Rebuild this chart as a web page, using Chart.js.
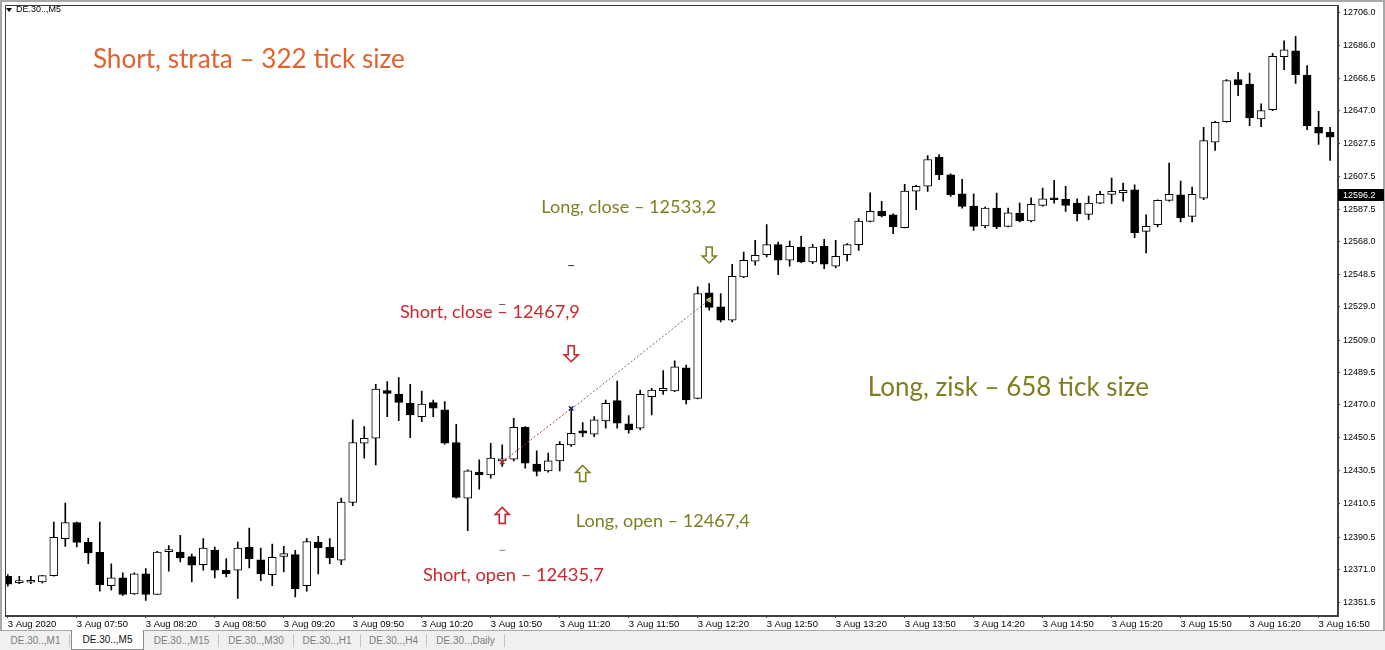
<!DOCTYPE html>
<html>
<head>
<meta charset="utf-8">
<script src="https://cdn.jsdelivr.net/npm/chart.js@4.4.1/dist/chart.umd.min.js"></script>
<style>
html, body { margin: 0; padding: 0; background: #fff; }
#wrap { position: relative; width: 1385px; height: 650px; overflow: hidden; font-family: "Liberation Sans", Arial, sans-serif; }
#c { position: absolute; left: 0; top: 0; }
#tabs { position: absolute; left: 0; top: 630px; width: 1385px; height: 20px; background: #f0f0f0; border-top: 1px solid #a8a8a8; box-sizing: border-box; }
.tab { position: absolute; top: 0; height: 18px; line-height: 18px; font-size: 10px; color: #7c7c7c; text-align: center; box-sizing: border-box; }
.tab.sep { border-right: 1px solid #c4c4c4; top: 3px; height: 13px; line-height: 13px; }
.tab.on { background: #fff; color: #111; border: 1px solid #8a8a8a; border-top: none; top: -1px; height: 20px; line-height: 20px; }
</style>
</head>
<body>
<div id="wrap">
  <canvas id="c" width="1385" height="630"></canvas>
  <div id="tabs">
    <div class="tab sep" style="left:2px;width:68px;">DE.30..,M1</div>
    <div class="tab on" style="left:71px;width:73px;">DE.30..,M5</div>
    <div class="tab sep" style="left:145px;width:74px;">DE.30..,M15</div>
    <div class="tab sep" style="left:219px;width:75px;">DE.30..,M30</div>
    <div class="tab sep" style="left:294px;width:67px;">DE.30..,H1</div>
    <div class="tab sep" style="left:361px;width:66px;">DE.30..,H4</div>
    <div class="tab sep" style="left:427px;width:78px;">DE.30..,Daily</div>
  </div>
</div>
<script>
// DE.30 M5 candles, 3 Aug 2020 from 07:20
const opens = [
    12367.0, 12363.2, 12363.4, 12363.6, 12367.4, 12389.6, 12399.2, 12387.4, 12381.4, 12361.4,
    12366.0, 12356.4, 12368.4, 12356.0, 12381.8, 12381.6, 12378.8, 12374.0, 12382.8, 12370.6,
    12370.6, 12384.4, 12376.8, 12368.0, 12379.0, 12380.0, 12361.4, 12387.4, 12384.4, 12376.6,
    12411.4, 12447.0, 12450.0, 12478.6, 12476.6, 12471.0, 12463.0, 12471.4, 12467.0, 12447.4,
    12414.0, 12429.6, 12428.0, 12436.4, 12437.4, 12456.6, 12434.4, 12430.4, 12436.4, 12446.0,
    12454.4, 12452.4, 12460.4, 12472.6, 12458.6, 12456.0, 12475.0, 12478.6, 12478.4, 12492.4,
    12474.0, 12537.4, 12529.0, 12521.0, 12547.0, 12556.4, 12560.4, 12566.4, 12557.0, 12565.0,
    12556.0, 12565.4, 12553.4, 12560.4, 12566.4, 12580.4, 12586.4, 12584.4, 12576.6, 12598.6,
    12601.6, 12619.0, 12608.4, 12597.0, 12589.6, 12577.6, 12588.4, 12577.4, 12585.4, 12580.6,
    12590.0, 12594.4, 12593.6, 12591.4, 12584.6, 12591.4, 12596.6, 12597.6, 12599.4, 12574.4,
    12578.4, 12593.0, 12596.4, 12583.4, 12594.4, 12628.0, 12640.4, 12665.6, 12663.0, 12642.0,
    12647.6, 12679.4, 12683.0, 12668.4, 12637.0, 12634.0
];
const highs = [
    12368.0, 12367.0, 12367.0, 12367.6, 12399.6, 12411.0, 12399.5, 12390.0, 12399.6, 12374.4,
    12369.0, 12369.0, 12371.6, 12382.0, 12385.4, 12391.6, 12380.4, 12389.6, 12384.6, 12377.6,
    12387.6, 12396.0, 12384.0, 12386.4, 12385.0, 12382.6, 12389.6, 12391.0, 12389.6, 12414.0,
    12461.0, 12457.0, 12482.4, 12484.0, 12486.4, 12482.4, 12478.4, 12473.0, 12472.0, 12458.4,
    12431.0, 12437.0, 12447.0, 12446.0, 12462.0, 12457.0, 12442.4, 12441.0, 12448.0, 12468.0,
    12459.4, 12463.0, 12473.0, 12484.4, 12463.6, 12479.0, 12480.0, 12490.6, 12496.6, 12494.0,
    12541.0, 12543.0, 12537.0, 12554.6, 12562.0, 12569.0, 12578.4, 12568.0, 12568.6, 12571.4,
    12566.6, 12569.6, 12569.0, 12567.0, 12582.0, 12597.6, 12592.4, 12585.0, 12602.6, 12602.0,
    12620.0, 12620.6, 12609.0, 12605.6, 12597.0, 12589.0, 12597.4, 12588.4, 12591.4, 12594.6,
    12600.4, 12605.0, 12601.4, 12594.0, 12595.6, 12598.4, 12606.4, 12603.4, 12602.4, 12584.4,
    12593.4, 12615.4, 12604.6, 12601.0, 12637.0, 12640.6, 12665.6, 12670.0, 12669.6, 12651.0,
    12681.4, 12689.0, 12691.6, 12674.0, 12646.6, 12637.0
];
const lows = [
    12361.0, 12362.5, 12362.5, 12363.0, 12367.0, 12385.0, 12384.6, 12374.6, 12358.0, 12358.6,
    12355.5, 12356.0, 12352.4, 12356.0, 12370.0, 12375.6, 12363.6, 12370.6, 12366.0, 12366.6,
    12353.6, 12372.0, 12364.4, 12361.4, 12369.6, 12354.6, 12358.0, 12368.4, 12374.6, 12374.0,
    12409.4, 12438.0, 12434.0, 12463.0, 12460.6, 12450.4, 12460.0, 12463.0, 12446.4, 12414.0,
    12394.4, 12419.4, 12426.0, 12433.0, 12436.4, 12432.0, 12427.4, 12429.6, 12430.4, 12445.0,
    12451.0, 12451.0, 12456.0, 12456.0, 12453.0, 12455.0, 12464.0, 12476.4, 12478.0, 12470.6,
    12473.6, 12527.0, 12520.0, 12520.0, 12546.6, 12554.0, 12559.0, 12548.4, 12553.4, 12555.6,
    12555.0, 12552.0, 12552.4, 12556.6, 12563.0, 12580.0, 12583.0, 12573.0, 12576.4, 12587.4,
    12598.4, 12605.4, 12595.4, 12588.4, 12575.0, 12576.4, 12576.0, 12577.0, 12580.0, 12580.0,
    12589.6, 12591.4, 12586.4, 12580.6, 12581.4, 12591.0, 12591.0, 12592.6, 12570.6, 12561.4,
    12577.0, 12592.6, 12580.0, 12580.0, 12593.4, 12623.0, 12640.0, 12656.0, 12638.0, 12637.4,
    12647.0, 12671.6, 12663.4, 12635.6, 12626.6, 12617.0
];
const closes = [
    12362.2, 12363.6, 12363.6, 12367.4, 12390.4, 12399.2, 12387.4, 12381.0, 12362.0, 12366.0,
    12356.0, 12368.4, 12356.0, 12381.6, 12382.2, 12378.0, 12373.6, 12384.0, 12370.6, 12368.6,
    12384.0, 12377.6, 12368.4, 12378.4, 12380.6, 12359.4, 12387.8, 12384.0, 12378.0, 12411.6,
    12447.4, 12450.0, 12479.6, 12477.0, 12471.6, 12464.0, 12470.6, 12468.0, 12447.0, 12414.4,
    12430.4, 12428.0, 12438.0, 12437.0, 12456.6, 12435.0, 12430.0, 12436.4, 12446.4, 12453.0,
    12453.0, 12461.0, 12471.0, 12459.0, 12455.0, 12476.4, 12479.0, 12480.0, 12493.0, 12473.0,
    12537.0, 12528.6, 12521.0, 12547.4, 12557.0, 12560.0, 12566.4, 12557.0, 12565.4, 12556.0,
    12565.0, 12554.6, 12559.4, 12566.4, 12580.6, 12586.4, 12583.6, 12577.0, 12598.6, 12601.4,
    12617.6, 12608.4, 12596.4, 12589.4, 12577.4, 12588.4, 12577.0, 12585.6, 12580.6, 12590.6,
    12594.0, 12593.4, 12590.0, 12585.0, 12591.4, 12596.6, 12598.4, 12599.0, 12573.6, 12577.4,
    12593.0, 12596.6, 12582.6, 12596.6, 12629.0, 12640.0, 12665.0, 12662.6, 12642.6, 12647.0,
    12679.6, 12683.6, 12668.6, 12638.0, 12633.4, 12631.0
];

// time axis labels (one every 6 bars)
const timeTickIdx = [0, 6, 12, 18, 24, 30, 36, 42, 48, 54, 60, 66, 72, 78, 84, 90, 96, 102, 108, 114];
const timeLabels = ['3 Aug 2020', '3 Aug 07:50', '3 Aug 08:20', '3 Aug 08:50', '3 Aug 09:20',
    '3 Aug 09:50', '3 Aug 10:20', '3 Aug 10:50', '3 Aug 11:20', '3 Aug 11:50', '3 Aug 12:20',
    '3 Aug 12:50', '3 Aug 13:20', '3 Aug 13:50', '3 Aug 14:20', '3 Aug 14:50', '3 Aug 15:20',
    '3 Aug 15:50', '3 Aug 16:20', '3 Aug 16:50'];

// price axis labels
const priceTicks = [12706.0, 12686.0, 12666.5, 12647.0, 12627.5, 12607.5, 12587.5, 12568.0,
    12548.5, 12529.0, 12509.0, 12489.5, 12470.0, 12450.5, 12430.5, 12410.5, 12390.5, 12371.0, 12351.5];
const bidPrice = 12596.2;

// trades: short 43 -> 49, long 49 -> 61
const shortIdx = [43, 49];
const shortPrices = [12435.7, 12467.9];
const longIdx = [49, 61];
const longPrices = [12467.4, 12533.2];
// small price marks left on the chart
const markIdx = [49, 43, 43];
const markPrices = [12553.8, 12382.6, 12530.4];

const RED = '#c9282e';
const OLIVE = '#7f7f22';

// text notes and arrows, anchored to bar index / price
const notes = [
    { i: 7.4, p: 12677.9, text: 'Short, strata – 322 tick size', color: '#e2622e', size: 26, w: 312 },
    { i: 74.8, p: 12480.3, text: 'Long, zisk – 658 tick size', color: OLIVE, size: 26, w: 281 },
    { i: 34.1, p: 12525.8, text: 'Short, close – 12467,9', color: RED, size: 18, w: 180 },
    { i: 36.1, p: 12367.7, text: 'Short, open – 12435,7', color: RED, size: 18, w: 181 },
    { i: 46.4, p: 12589.2, text: 'Long, close – 12533,2', color: OLIVE, size: 18, w: 175 },
    { i: 49.4, p: 12400.0, text: 'Long, open – 12467,4', color: OLIVE, size: 18, w: 174 }
];
const arrows = [
    { i: 43, p: 12403.6, up: true, color: RED },
    { i: 49, p: 12500.8, up: false, color: RED },
    { i: 50, p: 12428.8, up: true, color: OLIVE },
    { i: 61, p: 12560.2, up: false, color: OLIVE }
];

const bodies = opens.map((o, i) => ({ x: i, y: [o, closes[i]] }));
const wicks = lows.map((l, i) => ({ x: i, y: [l, highs[i]] }));

// frame, notes, arrows, bid label
const overlay = {
    id: 'overlay',
    beforeDraw(chart) {
        const ctx = chart.ctx;
        ctx.save();
        ctx.fillStyle = '#fff';
        ctx.fillRect(0, 0, chart.width, chart.height);
        ctx.strokeStyle = '#a8a8a8';
        ctx.lineWidth = 2;
        ctx.strokeRect(1, 1, chart.width - 2, chart.height + 2);
        ctx.restore();
    },
    afterDraw(chart) {
        const { ctx, chartArea: a, scales } = chart;
        const xs = scales.x, ys = scales.y;
        ctx.save();
        ctx.strokeStyle = '#404040';
        ctx.lineWidth = 1;
        ctx.strokeRect(Math.round(a.left) - 0.5, Math.round(a.top) - 0.5,
            Math.round(a.right - a.left) + 1, Math.round(a.bottom - a.top) + 1);

        // symbol caption
        ctx.fillStyle = '#000';
        ctx.font = '9px "Liberation Sans", Arial';
        ctx.textBaseline = 'middle';
        ctx.beginPath();
        ctx.moveTo(6, 8); ctx.lineTo(12, 8); ctx.lineTo(9, 12); ctx.closePath();
        ctx.fill();
        ctx.fillText('DE.30..,M5', 16, 10);

        notes.forEach(n => {
            const x = xs.getPixelForValue(n.i), y = ys.getPixelForValue(n.p);
            ctx.font = n.size + 'px Lato, "Open Sans", sans-serif';
            ctx.fillStyle = n.color;
            ctx.textAlign = 'left';
            ctx.textBaseline = 'middle';
            const tw = ctx.measureText(n.text).width;
            ctx.save();
            ctx.translate(x, y);
            ctx.scale(n.w / tw, 1);
            ctx.fillText(n.text, 0, 0);
            ctx.restore();
        });

        arrows.forEach(ar => {
            const x = xs.getPixelForValue(ar.i), y = ys.getPixelForValue(ar.p);
            const s = ar.up ? 1 : -1;
            ctx.beginPath();
            ctx.moveTo(x, y - 8 * s);
            ctx.lineTo(x + 7, y - 1 * s);
            ctx.lineTo(x + 3, y - 1 * s);
            ctx.lineTo(x + 3, y + 8 * s);
            ctx.lineTo(x - 3, y + 8 * s);
            ctx.lineTo(x - 3, y - 1 * s);
            ctx.lineTo(x - 7, y - 1 * s);
            ctx.closePath();
            ctx.strokeStyle = ar.color;
            ctx.lineWidth = 1.6;
            ctx.stroke();
        });

        // current bid box on the price axis
        const by = ys.getPixelForValue(bidPrice);
        ctx.fillStyle = '#000';
        ctx.fillRect(a.right + 1, Math.round(by) - 6, chart.width - a.right - 2, 12);
        ctx.fillStyle = '#fff';
        ctx.font = '9px "Liberation Sans", Arial';
        ctx.textAlign = 'left';
        ctx.fillText(bidPrice.toFixed(1), a.right + 6, by + 0.5);
        ctx.restore();
    }
};

new Chart(document.getElementById('c'), {
    type: 'bar',
    data: {
        datasets: [
            {
                label: 'short',
                type: 'line',
                data: shortIdx.map((x, k) => ({ x: x, y: shortPrices[k] })),
                borderColor: '#b0384a',
                borderWidth: 1,
                borderDash: [2, 2],
                pointStyle: 'crossRot',
                pointRadius: 3,
                pointBorderColor: ['#c0202a', '#20207a'],
                pointBorderWidth: 1.5,
                order: 0
            },
            {
                label: 'long',
                type: 'line',
                data: longIdx.map((x, k) => ({ x: x, y: longPrices[k] })),
                borderColor: '#6c6c8c',
                borderWidth: 1,
                borderDash: [2, 2],
                pointStyle: ['crossRot', 'triangle'],
                pointRadius: [0, 3],
                pointRotation: [0, -90],
                pointBackgroundColor: '#c8c078',
                pointBorderColor: '#c8c078',
                order: 0
            },
            {
                label: 'marks',
                type: 'scatter',
                data: markIdx.map((x, k) => ({ x: x, y: markPrices[k] })),
                pointStyle: 'line',
                pointRadius: 3,
                borderColor: ['#333', '#888', '#666'],
                borderWidth: 1,
                order: 0
            },
            {
                label: 'body',
                data: bodies,
                backgroundColor: c => closes[c.dataIndex] >= opens[c.dataIndex] ? '#ffffff' : '#000000',
                borderColor: '#000',
                borderWidth: 1,
                borderSkipped: false,
                barThickness: 8,
                minBarLength: 2,
                grouped: false,
                order: 1
            },
            {
                label: 'wick',
                data: wicks,
                backgroundColor: '#000',
                borderWidth: 0,
                barThickness: 1,
                grouped: false,
                order: 2
            }
        ]
    },
    options: {
        responsive: false,
        animation: false,
        devicePixelRatio: 1,
        layout: { padding: { left: 1, top: 1, right: 0, bottom: 0 } },
        plugins: { legend: { display: false }, tooltip: { enabled: false } },
        scales: {
            x: {
                type: 'linear',
                min: -0.2,
                max: 115.6,
                offset: false,
                grid: { offset: false, drawOnChartArea: false, tickLength: 3, color: '#404040' },
                border: { display: true, color: '#404040' },
                afterBuildTicks: s => { s.ticks = timeTickIdx.map(v => ({ value: v })); },
                afterFit: s => { s.height = 15; s.paddingLeft = 0; s.paddingRight = 0; },
                ticks: {
                    autoSkip: false,
                    maxRotation: 0,
                    align: 'start',
                    padding: 1,
                    color: '#000',
                    font: { family: '"Liberation Sans", Arial', size: 9.5 },
                    callback: v => timeLabels[timeTickIdx.indexOf(v)]
                }
            },
            y: {
                type: 'linear',
                position: 'right',
                min: 12343.7,
                max: 12710.2,
                beginAtZero: false,
                grid: { drawOnChartArea: false, tickLength: 3, color: '#404040' },
                border: { display: true, color: '#404040' },
                afterBuildTicks: s => { s.ticks = priceTicks.map(v => ({ value: v })); },
                afterFit: s => { s.width = 48; s.paddingTop = 0; s.paddingBottom = 0; },
                ticks: {
                    padding: 3,
                    color: '#000',
                    font: { family: '"Liberation Sans", Arial', size: 9 },
                    callback: v => v.toFixed(1)
                }
            }
        }
    },
    plugins: [overlay]
});
</script>
</body>
</html>
